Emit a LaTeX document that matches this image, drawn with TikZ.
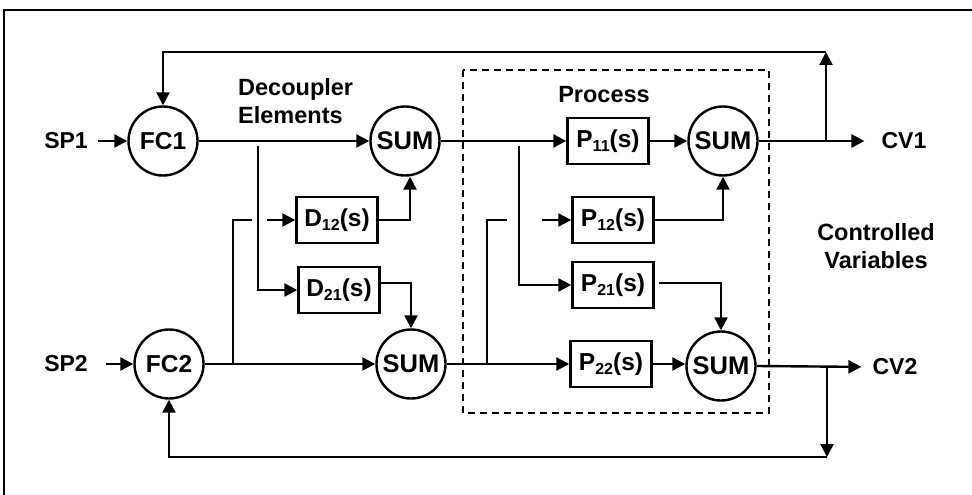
\documentclass[tikz,border=0pt]{standalone}
\usepackage{fontspec}
\setmainfont{Liberation Sans}
\usetikzlibrary{arrows.meta,calc}
\newcommand\sbs[1]{\raisebox{-4.5pt}{\fontsize{16}{16}\selectfont #1}}
\begin{document}
\begin{tikzpicture}[x=1pt,y=-1pt,
  font=\fontsize{23.5}{28}\selectfont\bfseries,
  lw/.style={line width=2.4pt},
  arr/.style={line width=2.4pt,-{Triangle[length=13pt,width=13pt]}},
  sumnode/.style={circle,draw,line width=2.4pt,minimum size=69pt,inner sep=0pt,font=\fontsize{25.5}{26}\selectfont\bfseries},
  fcnode/.style={sumnode,font=\fontsize{24.5}{26}\selectfont\bfseries},
  blk/.style={draw,line width=2.4pt,minimum width=81pt,minimum height=46pt,inner sep=0pt,font=\fontsize{24.5}{25}\selectfont\bfseries},
  lbl/.style={inner sep=0pt},
  io/.style={inner sep=0pt,font=\fontsize{23}{24}\selectfont\bfseries},
]
\useasboundingbox (0,0) rectangle (972,495);
% frame
\draw[line width=2.6pt] (4,497) -- (4,10) -- (974,10);
% dashed process box
\draw[lw,dash pattern=on 7pt off 5pt] (463,70) rectangle (769,413);

% nodes
\node[io] (sp1) at (66,141) {SP1};
\node[fcnode] (fc1) at (163,141) {FC1};
\node[sumnode] (sum1) at (405,141) {SUM};
\node[io] (sp2) at (66,364) {SP2};
\node[fcnode] (fc2) at (169,364) {FC2};
\node[sumnode] (sum2) at (411,364) {SUM};
\node[blk] (d12) at (337,220) {D\sbs{12}(s)};
\node[blk] (d21) at (339,290) {D\sbs{21}(s)};
\node[blk] (p11) at (608,141) {P\sbs{11}(s)};
\node[blk] (p12) at (613,220) {P\sbs{12}(s)};
\node[blk] (p21) at (613,285) {P\sbs{21}(s)};
\node[blk] (p22) at (611,364) {P\sbs{22}(s)};
\node[sumnode] (sum3) at (723,141) {SUM};
\node[sumnode] (sum4) at (721,366) {SUM};
\node[io] (cv1) at (904,141) {CV1};
\node[io] (cv2) at (895,367) {CV2};
\node[lbl,anchor=west,align=left] (dec) at (238,101) {Decoupler\\Elements};
\node[lbl] (proc) at (604,95) {Process};
\node[lbl,align=center] (ctrl) at (876,246) {Controlled\\Variables};

% coordinates
\coordinate (b1) at (258,146);
\coordinate (b2) at (233,364);
\coordinate (h1) at (252,220);
\coordinate (h1b) at (267,220);
\coordinate (b3) at (519,146);
\coordinate (b4) at (487,364);
\coordinate (h2) at (507,220);
\coordinate (h2b) at (542,220);
\coordinate (j1) at (826,141);
\coordinate (t1) at (826,52);
\coordinate (j2) at (827,366);
\coordinate (t2) at (827,457);

% connectors
\draw[arr,shorten <=10pt] (sp1.east) -- (fc1.west);
\draw[arr,shorten <=18pt] (sp2.east) -- (fc2.west);
\draw[arr] (fc1.east) -- (sum1.west);
\draw[arr] (fc2.east) -- (sum2.west);
\draw[arr] (b1) |- (d21.west);
\draw[lw] (b2) |- (h1);
\draw[arr] (h1b) -- (d12.west);
\draw[arr] (d12.east) -| ($(sum1.south)+(5,0)$);
\draw[arr] ($(d21.east)+(0,-7)$) -| (sum2.north);

\draw[arr] (sum1.east) -- (p11.west);
\draw[arr] (sum2.east) -- (p22.west);
\draw[arr] (b3) |- (p21.west);
\draw[lw] (b4) |- (h2);
\draw[arr] (h2b) -- (p12.west);
\draw[arr] (p11.east) -- (sum3.west);
\draw[arr] (p12.east) -| (sum3.south);
\draw[arr,shorten <=4pt] ($(p21.east)+(0,-2)$) -| (sum4.north);
\draw[arr] (p22.east) -- (p22.east -| sum4.west);
\draw[arr,shorten >=17pt] (sum3.east) -- (cv1.west);
\draw[arr,shorten >=11pt] (sum4.east) -- (cv2.west);

\draw[arr] (j1) -- (t1);
\draw[arr] (t1) -| (fc1.north);
\draw[arr] (j2) -- (t2);
\draw[arr] (t2) -| (fc2.south);
\end{tikzpicture}
\end{document}
